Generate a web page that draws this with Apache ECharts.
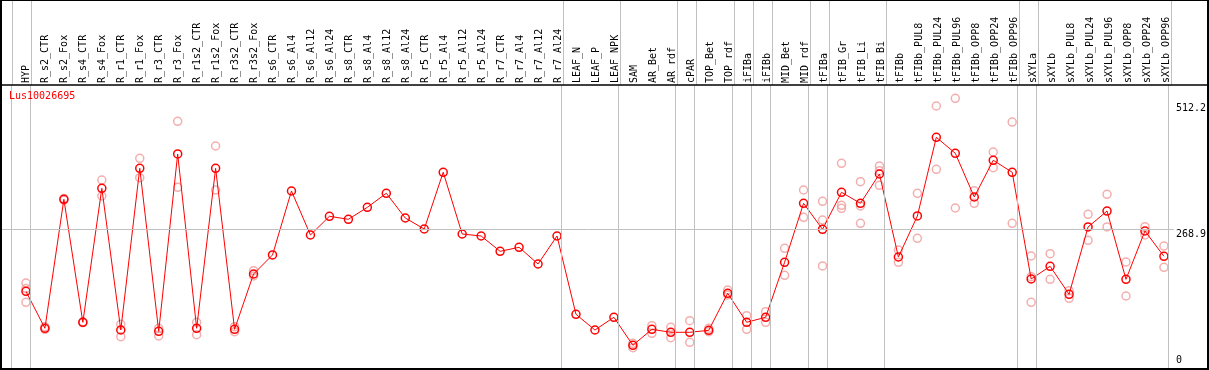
<!DOCTYPE html>
<html>
<head>
<meta charset="utf-8">
<script src="https://cdn.jsdelivr.net/npm/echarts@6/dist/echarts.min.js"></script>
<style>
html,body{margin:0;padding:0;background:#fff;}
#chart{width:1209px;height:370px;}
</style>
</head>
<body>
<div id="chart"></div>
<script>
const categories = ["HYP","R_s2_CTR","R_s2_Fox","R_s4_CTR","R_s4_Fox","R_r1_CTR","R_r1_Fox","R_r3_CTR","R_r3_Fox","R_r1s2_CTR","R_r1s2_Fox","R_r3s2_CTR","R_r3s2_Fox","R_s6_CTR","R_s6_Al4","R_s6_Al12","R_s6_Al24","R_s8_CTR","R_s8_Al4","R_s8_Al12","R_s8_Al24","R_r5_CTR","R_r5_Al4","R_r5_Al12","R_r5_Al24","R_r7_CTR","R_r7_Al4","R_r7_Al12","R_r7_Al24","LEAF_N","LEAF_P","LEAF_NPK","SAM","AR_Bet","AR_rdf","cPAR","TOP_Bet","TOP_rdf","iFIBa","iFIBb","MID_Bet","MID_rdf","tFIBa","tFIB_Gr","tFIB_Li","tFIB_Bi","tFIBb","tFIBb_PUL8","tFIBb_PUL24","tFIBb_PUL96","tFIBb_OPP8","tFIBb_OPP24","tFIBb_OPP96","sXYLa","sXYLb","sXYLb_PUL8","sXYLb_PUL24","sXYLb_PUL96","sXYLb_OPP8","sXYLb_OPP24","sXYLb_OPP96"];

const meanValues = [149.0,78.1,325.5,89.6,346.6,74.8,384.9,72.3,412.4,78.1,
384.9,76.1,182.2,218.7,341.4,257.0,292.9,287.1,310.1,337.0,
289.6,268.5,377.3,258.9,255.1,225.7,233.4,201.4,255.1,104.9,
74.8,99.2,45.5,76.1,70.4,70.4,74.2,145.2,89.6,99.2,
204.7,317.8,267.9,338.9,317.8,374.0,214.8,293.5,444.4,413.7,
329.9,400.3,377.3,172.6,197.0,143.3,272.4,303.0,172.0,264.7,216.2];

const replicateValues = [
[164.9,154.2,127.9],[81.1,76.1],[327,324],[90.5,88.7],[362.5,331.8],
[85.7,62.0],[404.1,366.9],[78.1,63.3],[475.1,348.5],[89.6,65.8],
[427.7,343.3],[81.1,71.5],[188.5,178.4],[],[],
[],[],[],[],[],
[],[],[],[],[],
[],[],[],[],[],
[],[],[49.3,40.9],[83.0,68.5],[80.0,60.0],
[92.6,51.2],[78.1,71.5],[151.5,141.9],[102.2,76.1],[109.9,89.6],
[231.5,179.7],[343.3,291.0],[321.6,285.8,197.6],[394.5,314.0,308.2],[359.2,312.6,279.5],
[389.4,380.3,352.3],[228.2,204.7],[337.0,250.7],[504.4,383.0],[519.2,308.8],
[342.0,317.8],[416.2,386.1],[473.7,279.5],[216.7,177.0,127.9],[221.1,172.0],
[150.2,135.6],[296.7,246.8],[335.1,272.4],[205.2,140.0],[272.9,257.0],[235.9,195.1]];

const yTickLabels = [0, 268.9, 512.2];
const groupEnds = [-1,0,28,31,34,35,37,38,39,41,42,45,52,53,60];
const geneName = "Lus10026695";

const FONT = "DejaVu Sans Mono";
const X_MIN = -1.3158, X_MAX = 60.526, Y_MAX = 544.7;

const indices = categories.map((_, i) => i);
const lineData = meanValues.map((v, i) => [i, v]);
const repData = [];
replicateValues.forEach((arr, i) => arr.forEach(v => repData.push([i, v])));
const sepLines = {
  silent: true, symbol: 'none', animation: false,
  label: {show: false},
  lineStyle: {color: '#c0c0c0', width: 1, type: 'solid'},
  emphasis: {disabled: true},
  data: groupEnds.map(g => ({xAxis: g + 0.25}))
};

const chart = echarts.init(document.getElementById('chart'), null, {renderer: 'canvas'});
chart.setOption({
  animation: false,
  backgroundColor: '#ffffff',
  title: {
    text: geneName, left: 9, top: 91, padding: 0,
    textStyle: {color: '#ff0000', fontFamily: FONT, fontSize: 10, fontWeight: 'normal'}
  },
  grid: [
    {left: 1, right: 33, top: 0, height: 85},
    {left: 1, right: 33, top: 85, bottom: 1}
  ],
  xAxis: [
    {gridIndex: 0, type: 'value', min: X_MIN, max: X_MAX, position: 'bottom',
     axisLine: {show: false}, axisTick: {show: false}, splitLine: {show: false},
     axisLabel: {inside: true, rotate: 90, margin: 2, customValues: indices,
       formatter: v => categories[Math.round(v)] || '',
       color: '#000', fontFamily: FONT, fontSize: 10}},
    {gridIndex: 1, type: 'value', min: X_MIN, max: X_MAX,
     axisLine: {show: false}, axisTick: {show: false}, splitLine: {show: false},
     axisLabel: {show: false}}
  ],
  yAxis: [
    {gridIndex: 0, type: 'value', min: 0, max: 1, show: false},
    {gridIndex: 1, type: 'value', min: 0, max: Y_MAX, position: 'right',
     axisLine: {show: false}, axisTick: {show: false}, splitLine: {show: false},
     axisLabel: {margin: 2, customValues: yTickLabels, verticalAlign: 'middle',
       color: '#000', fontFamily: FONT, fontSize: 10,
       formatter: v => v === 0 ? '{z|0}' : '{n|' + v + '}',
       rich: {
         z: {fontFamily: FONT, fontSize: 10, color: '#000', padding: [0, 0, 18, 0]},
         n: {fontFamily: FONT, fontSize: 10, color: '#000', padding: [12, 0, 0, 0]}
       }}}
  ],
  series: [
    {type: 'line', xAxisIndex: 0, yAxisIndex: 0, data: [], markLine: sepLines, z: 1},
    {type: 'line', xAxisIndex: 1, yAxisIndex: 1, data: [], z: 1,
     markLine: Object.assign({}, sepLines, {
       data: sepLines.data.concat([{yAxis: yTickLabels[1]}])
     })},
    {type: 'scatter', xAxisIndex: 1, yAxisIndex: 1, data: repData, z: 2,
     symbol: 'circle', symbolSize: 8, silent: true,
     itemStyle: {color: 'rgba(0,0,0,0)', borderColor: '#f09a9a', borderWidth: 1.5}},
    {type: 'line', xAxisIndex: 1, yAxisIndex: 1, data: lineData, z: 3,
     symbol: 'circle', symbolSize: 8, showSymbol: true, silent: true,
     lineStyle: {color: '#ff0000', width: 1},
     itemStyle: {color: 'rgba(0,0,0,0)', borderColor: '#ff0000', borderWidth: 1.5}}
  ],
  graphic: [
    {type: 'rect', z: 100, silent: true,
     shape: {x: 1, y: 0, width: 1207, height: 369},
     style: {fill: null, stroke: '#000', lineWidth: 2}},
    {type: 'line', z: 100, silent: true,
     shape: {x1: 1, y1: 85, x2: 1208, y2: 85},
     style: {stroke: '#000', lineWidth: 1.5}}
  ]
});
</script>
</body>
</html>
